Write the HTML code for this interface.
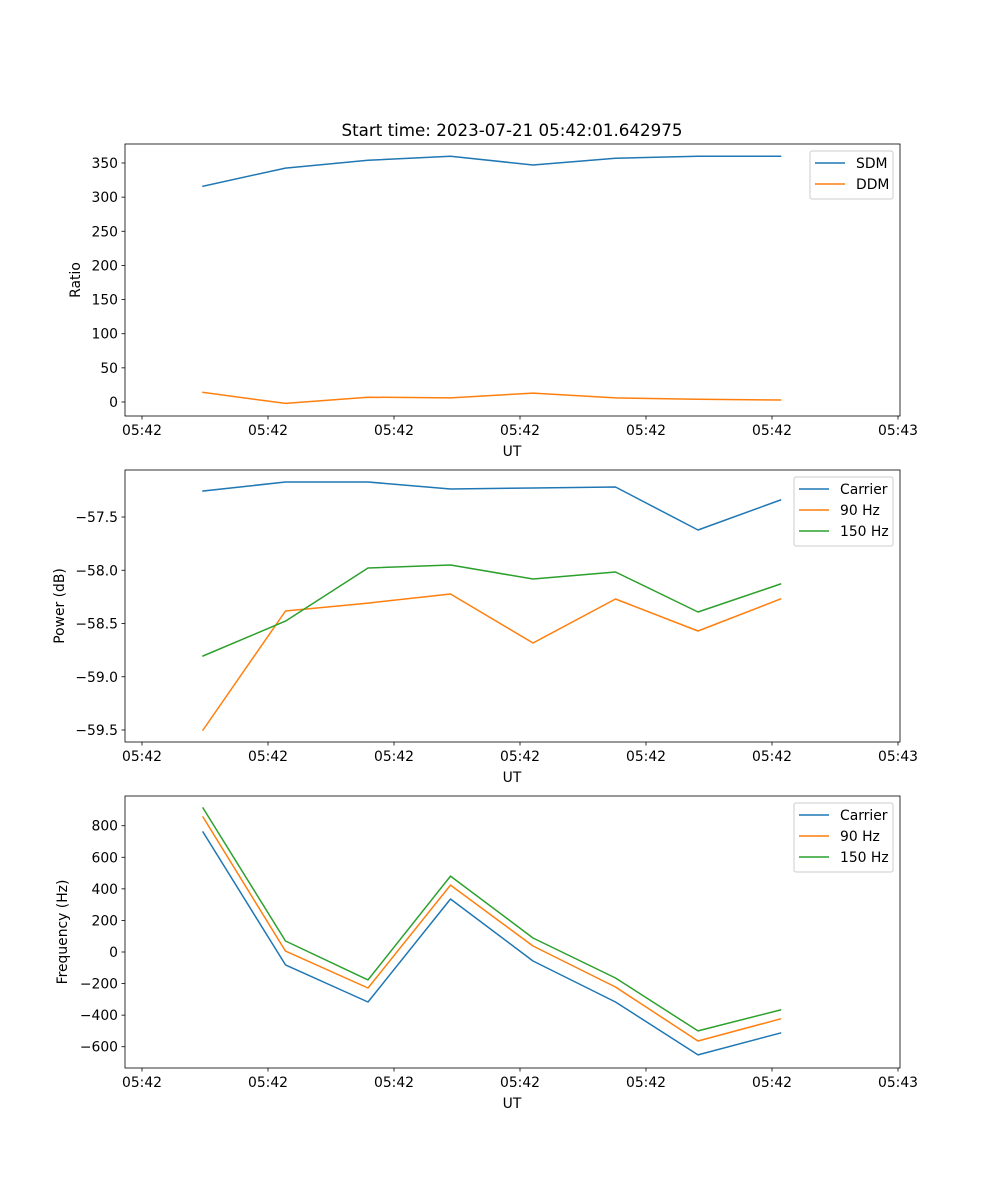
<!DOCTYPE html>
<html><head><meta charset="utf-8"><style>
html,body{margin:0;padding:0;background:#fff}
svg{display:block;font-family:"DejaVu Sans","Liberation Sans",sans-serif}
</style></head><body>
<svg id="fig" width="1000" height="1200" viewBox="0 0 1000 1200">
<text x="512" y="136" text-anchor="middle" font-size="16.7">Start time: 2023-07-21 05:42:01.642975</text>
</svg>
<script>
const xTickLabels = ["05:42","05:42","05:42","05:42","05:42","05:42","05:43"];
const sdm = [316,342.6,354,360,347,357,360,360];
const ddm = [14,-2,7,6,13,6,4,3];
const pCarrier = [-57.256,-57.171,-57.171,-57.237,-57.228,-57.218,-57.622,-57.34];
const p90 = [-59.5,-58.383,-58.308,-58.223,-58.683,-58.27,-58.57,-58.27];
const p150 = [-58.805,-58.477,-57.979,-57.951,-58.082,-58.016,-58.392,-58.129];
const fCarrier = [760,-82,-317,336,-57,-317,-652,-513];
const f90 = [855,6,-228,424,38,-222,-564,-424];
const f150 = [912,70,-177,481,89,-165,-500,-367];
const ticks1 = [0,50,100,150,200,250,300,350];
const ticks2 = [-57.5,-58.0,-58.5,-59.0,-59.5];
const ticks3 = [800,600,400,200,0,-200,-400,-600];

const NS="http://www.w3.org/2000/svg";
const svg=document.getElementById('fig');
const C={blue:"#1f77b4",orange:"#ff7f0e",green:"#2ca02c"};
const FS=13.9;
function mk(tag,attrs,parent){const e=document.createElementNS(NS,tag);for(const k in attrs)e.setAttribute(k,attrs[k]);(parent||svg).appendChild(e);return e;}
const L=125,R=900;
const xIdx=i=>203+i*82.5;
const xTickPos=i=>142+i*126;

function panel(cfg){
  const g=mk('g',{});
  
  
  const T=cfg.top,B=cfg.top+272;
  const y=v=>cfg.y0+(v-cfg.v0)*cfg.scale;
  cfg.series.forEach(s=>{
    const pts=s.data.map((v,i)=>xIdx(i).toFixed(1)+","+y(v).toFixed(1)).join(" ");
    const pl=mk('polyline',{points:pts,fill:"none",stroke:s.color,"stroke-width":1.5,"stroke-linejoin":"round","stroke-linecap":"square"},g);
    
    
  });
  const fr=mk('rect',{x:L,y:T,width:R-L,height:B-T,fill:"none",stroke:"#000","stroke-width":0.8},g);
  
  
  xTickLabels.forEach((t,i)=>{
    const x=xTickPos(i);
    mk('line',{x1:x,x2:x,y1:B,y2:B+3.5,stroke:"#000","stroke-width":0.8},g);
    const tx=mk('text',{x:x,y:B+19,"text-anchor":"middle","font-size":FS},g);
    tx.textContent=t;
    
    
  });
  cfg.ticks.forEach(v=>{
    const yy=y(v);
    mk('line',{x1:L-3.5,x2:L,y1:yy,y2:yy,stroke:"#000","stroke-width":0.8},g);
    const tx=mk('text',{x:L-7,y:yy+5,"text-anchor":"end","font-size":FS},g);
    tx.textContent=cfg.fmt(v);
    
    
  });
  const xl=mk('text',{x:512,y:B+40,"text-anchor":"middle","font-size":FS},g);
  xl.textContent="UT";
  
  
  const yl=mk('text',{x:0,y:0,"text-anchor":"middle","font-size":FS,transform:`translate(${cfg.ylx},${(T+B)/2}) rotate(-90)`},g);
  yl.textContent=cfg.ylabel;
  
  
  const lw=cfg.legW, lx=893-lw, ly=T+7, lh=cfg.series.length*21+6;
  const lg=mk('g',{},g);
  
  
  mk('rect',{x:lx,y:ly,width:lw,height:lh,rx:2,fill:"#fff","fill-opacity":0.8,stroke:"#ccc","stroke-width":1},lg);
  cfg.series.forEach((s,i)=>{
    const ry=ly+12+i*21;
    mk('line',{x1:lx+5,x2:lx+35,y1:ry,y2:ry,stroke:s.color,"stroke-width":1.5},lg);
    const t=mk('text',{x:lx+46,y:ry+5,"font-size":FS},lg);
    t.textContent=s.label;
    
    
  });
}
panel({name:'ratio-panel',top:144,y0:402,v0:0,scale:-239/350,ticks:ticks1,fmt:v=>String(v),ylabel:"Ratio",ylx:80,legW:83,
  series:[{id:'sdm',label:'SDM',data:sdm,color:C.blue},{id:'ddm',label:'DDM',data:ddm,color:C.orange}]});
panel({name:'power-panel',top:470,y0:517,v0:-57.5,scale:-106.5,ticks:ticks2,fmt:v=>"\u2212"+Math.abs(v).toFixed(1),ylabel:"Power (dB)",ylx:64,legW:99,
  series:[{id:'carrier-power',label:'Carrier',data:pCarrier,color:C.blue},{id:'power-90hz',label:'90 Hz',data:p90,color:C.orange},{id:'power-150hz',label:'150 Hz',data:p150,color:C.green}]});
panel({name:'frequency-panel',top:796,y0:952,v0:0,scale:-221/1400,ticks:ticks3,fmt:v=>v<0?"\u2212"+Math.abs(v):String(v),ylabel:"Frequency (Hz)",ylx:67,legW:99,
  series:[{id:'carrier-freq',label:'Carrier',data:fCarrier,color:C.blue},{id:'freq-90hz',label:'90 Hz',data:f90,color:C.orange},{id:'freq-150hz',label:'150 Hz',data:f150,color:C.green}]});
</script>
</body></html>
